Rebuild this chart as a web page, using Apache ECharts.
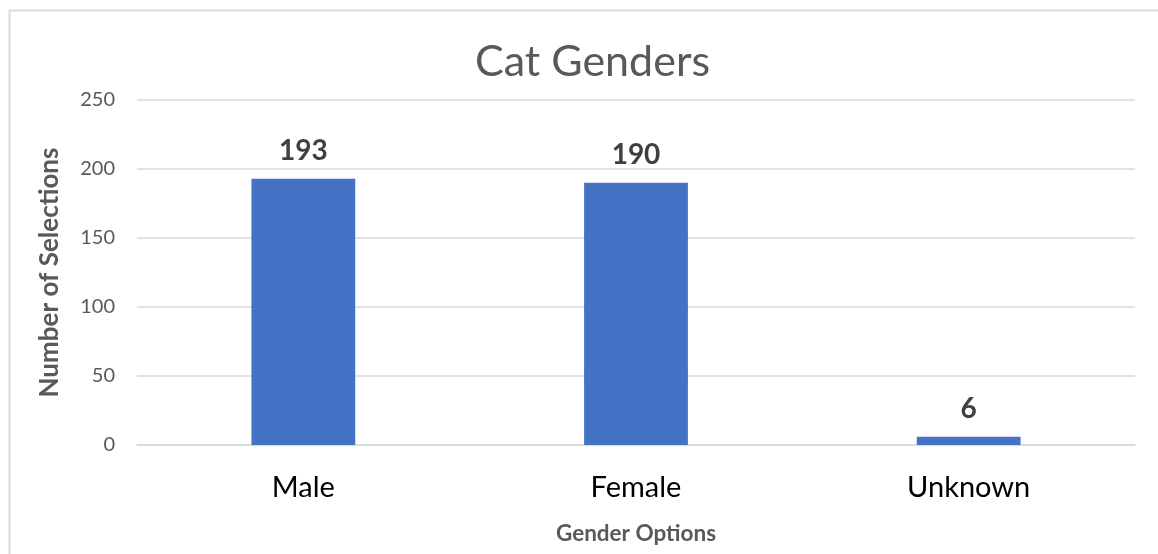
<!DOCTYPE html>
<html>
<head>
<meta charset="utf-8">
<script src="https://cdn.jsdelivr.net/npm/echarts@6/dist/echarts.min.js"></script>
<style>html,body{margin:0;padding:0;background:#fff}#c{width:1158px;height:554px}</style>
</head>
<body>
<div id="c"></div>
<script>
const categories = ['Male', 'Female', 'Unknown'];
const selections = [193, 190, 6];
const yTicks = [0, 50, 100, 150, 200, 250];
const titleText = 'Cat Genders';
const xName = 'Gender Options';
const yName = 'Number of Selections';

const font = 'Lato, "Open Sans", sans-serif';
const chart = echarts.init(document.getElementById('c'));
chart.setOption({
  animation: false,
  backgroundColor: '#fff',
  graphic: [{
    type: 'rect', left: 7, top: 8, shape: { width: 1170, height: 570 },
    style: { fill: 'none', stroke: '#d9d9d9', lineWidth: 2 }, silent: true
  }],
  title: {
    text: titleText, left: 470, top: 36,
    textStyle: { fontFamily: font, fontSize: 43, fontWeight: 'normal', color: '#595959' }
  },
  grid: { left: 137, right: 23, top: 100, bottom: 109 },
  xAxis: {
    type: 'category', data: categories,
    name: xName, nameLocation: 'middle', nameGap: 77,
    nameTextStyle: { fontFamily: font, fontSize: 22.5, fontWeight: 'bold', color: '#595959' },
    axisLine: { lineStyle: { color: '#d9d9d9', width: 1.5 } },
    axisTick: { show: false },
    axisLabel: { fontFamily: font, fontSize: 29, color: '#000', margin: 28 }
  },
  yAxis: {
    type: 'value', min: yTicks[0], max: yTicks[yTicks.length - 1], interval: 50,
    name: yName, nameLocation: 'middle', nameGap: 74,
    nameTextStyle: { fontFamily: font, fontSize: 26, fontWeight: 'bold', color: '#595959' },
    axisLine: { show: false }, axisTick: { show: false },
    axisLabel: { fontFamily: font, fontSize: 20, color: '#595959', margin: 22 },
    splitLine: { lineStyle: { color: '#d9d9d9', width: 1.5 } }
  },
  series: [{
    type: 'bar', data: selections, barWidth: '31.2%',
    itemStyle: { color: '#4472C4' },
    label: {
      show: true, position: 'top', distance: 14,
      fontFamily: font, fontSize: 28, fontWeight: 'bold', color: '#404040'
    }
  }]
});
</script>
</body>
</html>
